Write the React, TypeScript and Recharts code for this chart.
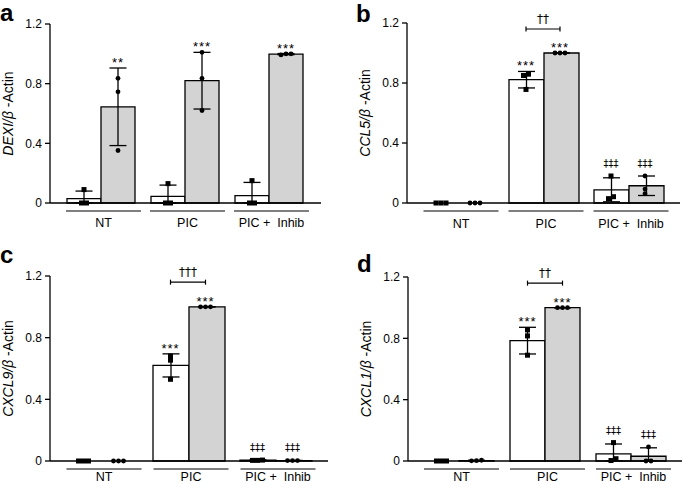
import React from 'react';
import { ComposedChart, Bar, XAxis, YAxis, ErrorBar, Scatter } from 'recharts';

const FONT = '"Liberation Sans", Arial, Helvetica, sans-serif';
const SYMBOL_FONT = '"DejaVu Sans", "Liberation Sans", sans-serif';

// Shared categories and axis ticks
const groups = ['NT', 'PIC', 'PIC +  Inhib'];
const yTicks = [0, 0.4, 0.8, 1.2];
const yDomainMax = 1.2;
const bracketGroup = 1;
const bracketLevel = 1.16;

// Panel a: DEXI
const dexiWhiteMean = [0.03, 0.045, 0.05];
const dexiWhiteSd = [0.05, 0.075, 0.088];
const dexiWhitePts = [[0.09, 0, 0], [0.13, 0, 0], [0.15, 0, 0]];
const dexiGreyMean = [0.645, 0.82, 0.998];
const dexiGreySd = [0.26, 0.19, 0.004];
const dexiGreyPts = [[0.836, 0.745, 0.352], [1.01, 0.836, 0.62], [1.0, 0.993, 1.0]];
const dexiWhiteMarks = ['', '', ''];
const dexiGreyMarks = ['**', '***', '***'];
const dexiBracket = '';

// Panel b: CCL5
const ccl5WhiteMean = [0, 0.822, 0.088];
const ccl5WhiteSd = [0, 0.055, 0.08];
const ccl5WhitePts = [[0, 0, 0], [0.859, 0.85, 0.757], [0.18, 0.029, 0.042]];
const ccl5GreyMean = [0, 1.0, 0.115];
const ccl5GreySd = [0, 0, 0.065];
const ccl5GreyPts = [[0, 0, 0], [1, 1, 1], [0.18, 0.093, 0.062]];
const ccl5WhiteMarks = ['', '***', '‡‡‡'];
const ccl5GreyMarks = ['', '***', '‡‡‡'];
const ccl5Bracket = '††';

// Panel c: CXCL9
const cxcl9WhiteMean = [0, 0.62, 0.005];
const cxcl9WhiteSd = [0, 0.075, 0.003];
const cxcl9WhitePts = [[0, 0, 0], [0.68, 0.654, 0.53], [0.004, 0.006, 0.004]];
const cxcl9GreyMean = [0, 1.0, 0.003];
const cxcl9GreySd = [0, 0, 0.001];
const cxcl9GreyPts = [[0, 0, 0], [1, 1, 1], [0.003, 0.003, 0.003]];
const cxcl9WhiteMarks = ['', '***', '‡‡‡'];
const cxcl9GreyMarks = ['', '***', '‡‡‡'];
const cxcl9Bracket = '†††';

// Panel d: CXCL1
const cxcl1WhiteMean = [0, 0.785, 0.046];
const cxcl1WhiteSd = [0, 0.087, 0.065];
const cxcl1WhitePts = [[0, 0, 0], [0.855, 0.816, 0.69], [0.12, 0.003, 0.015]];
const cxcl1GreyMean = [0.003, 1.0, 0.031];
const cxcl1GreySd = [0.002, 0, 0.055];
const cxcl1GreyPts = [[0.001, 0.005, 0.002], [1, 1, 1], [0.092, 0, 0]];
const cxcl1WhiteMarks = ['', '***', '‡‡‡'];
const cxcl1GreyMarks = ['', '***', '‡‡‡'];
const cxcl1Bracket = '††';

const DOT_STEP = 5;

function spread(vals: number[], cx: number, band: number, ppu: number) {
  const order = vals.map((_, i) => i).sort((a, b) => vals[a] - vals[b]);
  const out: { x: number; y: number }[] = [];
  let cl: number[] = [];
  const flush = () => {
    cl.forEach((id, j) =>
      out.push({ x: cx + ((j - (cl.length - 1) / 2) * DOT_STEP) / band, y: vals[id] })
    );
    cl = [];
  };
  order.forEach((id) => {
    if (cl.length && (vals[id] - vals[cl[cl.length - 1]]) * ppu >= 4) flush();
    cl.push(id);
  });
  flush();
  return out;
}

const Square = (p: any) =>
  p.cx == null ? null : <rect x={p.cx - 2.5} y={p.cy - 2.5} width={5} height={5} fill="#000" />;
const Dot = (p: any) => (p.cx == null ? null : <circle cx={p.cx} cy={p.cy} r={2.4} fill="#000" />);
const TickMark = (p: any) =>
  p.cx == null ? null : <line x1={p.cx} x2={p.cx} y1={p.cy - 2.5} y2={p.cy + 2.5} stroke="#000" strokeWidth={1.2} />;

const MarkText = (p: any) => {
  if (p.cx == null) return null;
  const kind = p.payload.kind;
  if (kind === 'star')
    return (
      <text x={p.cx} y={p.cy - 1} textAnchor="middle" fontSize={13} letterSpacing={1} fill="#000">
        {p.payload.label}
      </text>
    );
  if (kind === 'ddag')
    return (
      <text x={p.cx} y={p.cy - 9} textAnchor="middle" fontFamily={SYMBOL_FONT} fontSize={10} fill="#000">
        {p.payload.label}
      </text>
    );
  return (
    <text x={p.cx} y={p.cy - 6} textAnchor="middle" fontFamily={SYMBOL_FONT} fontSize={12} fill="#000">
      {p.payload.label}
    </text>
  );
};

const YLabel = (p: any) => {
  const vb = p.viewBox || { x: 0, y: 0, width: 0, height: 0 };
  const cx = vb.x + vb.width - 42.5;
  const cy = vb.y + vb.height / 2;
  return (
    <text
      x={cx}
      y={cy}
      transform={`rotate(-90 ${cx} ${cy})`}
      textAnchor="middle"
      dominantBaseline="central"
      fontSize={14}
      fill="#000"
    >
      <tspan fontStyle="italic">{p.gene}/β</tspan>
      <tspan> -Actin</tspan>
    </text>
  );
};

const GroupTick = (p: any) => (
  <g>
    <line x1={p.x - 35} x2={p.x + 40} y1={p.y + 8} y2={p.y + 8} stroke="#000" strokeWidth={1.2} />
    <text x={p.x + 2.5} y={p.y + p.labelDy} textAnchor="middle" fontSize={12.5} fill="#000" style={{ whiteSpace: 'pre' }}>
      {p.payload.value}
    </text>
  </g>
);

type PanelProps = {
  left: number;
  top: number;
  width: number;
  height: number;
  marginTop: number;
  marginRight: number;
  yAxisWidth: number;
  xAxisHeight: number;
  padL: number;
  padR: number;
  gap: number;
  labelDy: number;
  gene: string;
  wMean: number[];
  wSd: number[];
  wPts: number[][];
  gMean: number[];
  gSd: number[];
  gPts: number[][];
  wMarks: string[];
  gMarks: string[];
  bracket: string;
};

function Panel(p: PanelProps) {
  const margin = { top: p.marginTop, right: p.marginRight, bottom: 0, left: 0 };
  const plotW = p.width - margin.left - margin.right - p.yAxisWidth;
  const plotH = p.height - margin.top - margin.bottom - p.xAxisHeight;
  const band = (plotW - p.padL - p.padR) / groups.length;
  const size = Math.floor((band - 2 * p.gap) / 2);
  const wFrac = (p.gap + size / 2) / band;
  const gFrac = (p.gap + size * 1.5) / band;
  const ppu = plotH / yDomainMax;

  const data = groups.map((name, i) => ({
    name,
    w: p.wMean[i],
    g: p.gMean[i],
    wErr: [Math.min(p.wSd[i], p.wMean[i]), p.wSd[i]],
    gErr: [Math.min(p.gSd[i], p.gMean[i]), p.gSd[i]],
  }));
  const wPts = p.wPts.flatMap((vals, i) => spread(vals, i + wFrac, band, ppu));
  const gPts = p.gPts.flatMap((vals, i) => spread(vals, i + gFrac, band, ppu));

  const marks: any[] = [];
  groups.forEach((_, i) => {
    const kindOf = (s: string) => (s.includes('‡') ? 'ddag' : 'star');
    if (p.wMarks[i])
      marks.push({ x: i + wFrac, y: Math.max(p.wMean[i] + p.wSd[i], ...p.wPts[i]), label: p.wMarks[i], kind: kindOf(p.wMarks[i]) });
    if (p.gMarks[i])
      marks.push({ x: i + gFrac, y: Math.max(p.gMean[i] + p.gSd[i], ...p.gPts[i]), label: p.gMarks[i], kind: kindOf(p.gMarks[i]) });
  });
  const bracketPts = p.bracket
    ? [
        { x: bracketGroup + wFrac, y: bracketLevel },
        { x: bracketGroup + gFrac, y: bracketLevel },
      ]
    : [];
  if (p.bracket)
    marks.push({ x: bracketGroup + (wFrac + gFrac) / 2, y: bracketLevel, label: p.bracket, kind: 'dag' });

  return (
    <div style={{ position: 'absolute', left: p.left, top: p.top }}>
      <ComposedChart
        width={p.width}
        height={p.height}
        data={data}
        margin={margin}
        barGap={0}
        barCategoryGap={p.gap}
        style={{ fontFamily: FONT, overflow: 'visible' }}
      >
        <XAxis
          xAxisId="c"
          dataKey="name"
          height={p.xAxisHeight}
          padding={{ left: p.padL, right: p.padR }}
          tickLine={false}
          tickSize={0}
          tickMargin={0}
          interval={0}
          axisLine={{ stroke: '#000', strokeWidth: 1.3 }}
          tick={(tp: any) => <GroupTick {...tp} labelDy={p.labelDy} />}
        />
        <XAxis
          xAxisId="n"
          dataKey="x"
          type="number"
          domain={[0, groups.length]}
          padding={{ left: p.padL, right: p.padR }}
          hide
        />
        <YAxis
          width={p.yAxisWidth}
          domain={[0, yDomainMax]}
          ticks={yTicks}
          interval={0}
          tickSize={5}
          tickMargin={3}
          axisLine={{ stroke: '#000', strokeWidth: 1.3 }}
          tickLine={{ stroke: '#000', strokeWidth: 1.3 }}
          tick={{ fontSize: 12, fill: '#000' }}
          label={<YLabel gene={p.gene} />}
        />
        <Bar xAxisId="c" dataKey="w" fill="#ffffff" stroke="#000" strokeWidth={1.3} isAnimationActive={false}>
          <ErrorBar dataKey="wErr" width={8.5} stroke="#000" strokeWidth={1.3} direction="y" />
        </Bar>
        <Bar xAxisId="c" dataKey="g" fill="#d3d3d3" stroke="#000" strokeWidth={1.3} isAnimationActive={false}>
          <ErrorBar dataKey="gErr" width={8.5} stroke="#000" strokeWidth={1.3} direction="y" />
        </Bar>
        <Scatter xAxisId="n" data={wPts} dataKey="y" shape={Square} isAnimationActive={false} />
        <Scatter xAxisId="n" data={gPts} dataKey="y" shape={Dot} isAnimationActive={false} />
        {p.bracket ? (
          <Scatter
            xAxisId="n"
            data={bracketPts}
            dataKey="y"
            shape={TickMark}
            line={{ stroke: '#000', strokeWidth: 1.2 }}
            isAnimationActive={false}
          />
        ) : null}
        <Scatter xAxisId="n" data={marks} dataKey="y" shape={MarkText} isAnimationActive={false} />
      </ComposedChart>
    </div>
  );
}

export default function App() {
  return (
    <div style={{ position: 'absolute', left: 0, top: 0, width: 685, height: 484, overflow: 'hidden', background: '#fff', fontFamily: FONT }}>
      <Panel
        left={0} top={0} width={331} height={233} marginTop={24} marginRight={10}
        yAxisWidth={50} xAxisHeight={30} padL={9} padR={10} gap={8} labelDy={24}
        gene="DEXI" wMean={dexiWhiteMean} wSd={dexiWhiteSd} wPts={dexiWhitePts}
        gMean={dexiGreyMean} gSd={dexiGreySd} gPts={dexiGreyPts}
        wMarks={dexiWhiteMarks} gMarks={dexiGreyMarks} bracket={dexiBracket}
      />
      <Panel
        left={345} top={0} width={340} height={233} marginTop={23} marginRight={5}
        yAxisWidth={62} xAxisHeight={30} padL={9} padR={9} gap={8} labelDy={25}
        gene="CCL5" wMean={ccl5WhiteMean} wSd={ccl5WhiteSd} wPts={ccl5WhitePts}
        gMean={ccl5GreyMean} gSd={ccl5GreySd} gPts={ccl5GreyPts}
        wMarks={ccl5WhiteMarks} gMarks={ccl5GreyMarks} bracket={ccl5Bracket}
      />
      <Panel
        left={0} top={240} width={335} height={244} marginTop={36} marginRight={7}
        yAxisWidth={50} xAxisHeight={23} padL={8} padR={9} gap={8} labelDy={20}
        gene="CXCL9" wMean={cxcl9WhiteMean} wSd={cxcl9WhiteSd} wPts={cxcl9WhitePts}
        gMean={cxcl9GreyMean} gSd={cxcl9GreySd} gPts={cxcl9GreyPts}
        wMarks={cxcl9WhiteMarks} gMarks={cxcl9GreyMarks} bracket={cxcl9Bracket}
      />
      <Panel
        left={345} top={240} width={340} height={244} marginTop={37} marginRight={3}
        yAxisWidth={63} xAxisHeight={23} padL={8} padR={8} gap={8} labelDy={20}
        gene="CXCL1" wMean={cxcl1WhiteMean} wSd={cxcl1WhiteSd} wPts={cxcl1WhitePts}
        gMean={cxcl1GreyMean} gSd={cxcl1GreySd} gPts={cxcl1GreyPts}
        wMarks={cxcl1WhiteMarks} gMarks={cxcl1GreyMarks} bracket={cxcl1Bracket}
      />
      <svg width={685} height={484} style={{ position: 'absolute', left: 0, top: 0, pointerEvents: 'none' }}>
        <g fontFamily={FONT} fontWeight="bold" fontSize={24} fill="#000">
          <text x={0} y={21}>a</text>
          <text x={356} y={22}>b</text>
          <text x={0} y={263}>c</text>
          <text x={357} y={272}>d</text>
        </g>
      </svg>
    </div>
  );
}
